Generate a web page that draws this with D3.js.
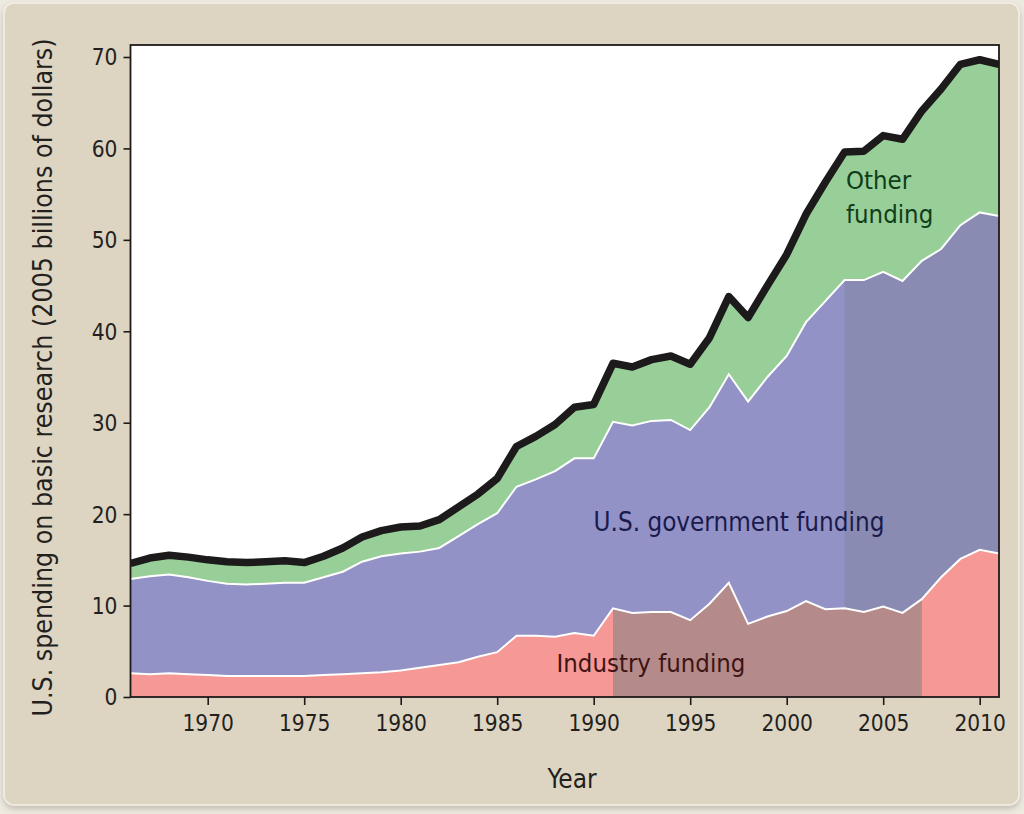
<!DOCTYPE html>
<html>
<head>
<meta charset="utf-8">
<script src="https://cdn.jsdelivr.net/npm/d3@7"></script>
<style>
  html, body { margin: 0; padding: 0; background: #eeeae2; }
  svg { display: block; }
  text { font-family: "DejaVu Sans Condensed", "DejaVu Sans", sans-serif; font-stretch: condensed; }
</style>
</head>
<body>
<svg id="chart" width="1024" height="814"></svg>
<script>
const years = [1966,1967,1968,1969,1970,1971,1972,1973,1974,1975,1976,1977,1978,1979,1980,1981,1982,1983,1984,1985,1986,1987,1988,1989,1990,1991,1992,1993,1994,1995,1996,1997,1998,1999,2000,2001,2002,2003,2004,2005,2006,2007,2008,2009,2010,2011];
const industry = [2.6,2.5,2.6,2.5,2.4,2.3,2.3,2.3,2.3,2.3,2.4,2.5,2.6,2.7,2.9,3.2,3.5,3.8,4.4,4.9,6.7,6.7,6.6,7.0,6.7,9.7,9.2,9.3,9.3,8.4,10.2,12.5,8.0,8.8,9.4,10.5,9.6,9.7,9.3,9.9,9.2,10.7,13.1,15.1,16.1,15.7];
const government = [10.3,10.7,10.8,10.6,10.3,10.1,10.0,10.1,10.2,10.2,10.7,11.2,12.2,12.7,12.8,12.7,12.8,13.8,14.5,15.2,16.3,17.1,18.1,19.1,19.4,20.4,20.5,20.9,21.0,20.8,21.5,22.8,24.3,26.2,27.9,30.5,33.7,35.9,36.3,36.6,36.3,37.0,35.9,36.5,36.9,36.9];
const other = [1.7,2.0,2.1,2.2,2.3,2.4,2.4,2.4,2.4,2.2,2.3,2.6,2.7,2.8,2.9,2.8,3.1,3.2,3.3,3.8,4.4,4.7,5.1,5.6,5.9,6.4,6.4,6.7,7.0,7.2,7.6,8.5,9.2,10.0,11.1,11.8,13.0,14.0,14.1,14.9,15.5,16.4,17.5,17.6,16.7,16.6];
const xTicks = [1970,1975,1980,1985,1990,1995,2000,2005,2010];
const yTicks = [0,10,20,30,40,50,60,70];
const industryHighlight = [1991, 2007];
const governmentHighlight = [2003, 2011];
const seriesLabels = {industry: ["Industry funding"], government: ["U.S. government funding"], other: ["Other", "funding"]};

const svg = d3.select("#chart");
const W = 1024, H = 814;

// panel
const defs = svg.append("defs");
const f = defs.append("filter").attr("id","sh").attr("x","-5%").attr("y","-5%").attr("width","110%").attr("height","110%");
f.append("feDropShadow").attr("dx",0).attr("dy",3).attr("stdDeviation",3).attr("flood-color","#8a8070").attr("flood-opacity",0.45);
svg.append("rect").attr("x",4).attr("y",3).attr("width",W-9).attr("height",H-12).attr("rx",10)
  .attr("fill","#ddd5c1").attr("stroke","#f3efe6").attr("stroke-width",1.5).attr("filter","url(#sh)");

const m = {left:130.5, right:999, top:45, bottom:697};
const x = d3.scaleLinear().domain([1966, 2011]).range([m.left, m.right]);
const y = d3.scaleLinear().domain([0, 70]).range([m.bottom, 57]);

const data = years.map((yr,i)=>({year:yr, industry:industry[i], government:government[i], other:other[i]}));
const keys = ["industry","government","other"];
const stack = d3.stack().keys(keys)(data);

const g = svg.append("g");
g.append("rect").attr("x",m.left).attr("y",m.top).attr("width",m.right-m.left).attr("height",m.bottom-m.top).attr("fill","#ffffff");

const area = d3.area().x(d=>x(d.data.year)).y0(d=>y(d[0])).y1(d=>y(d[1]));
const colors = {industry:"#f59896", government:"#9292c7", other:"#98cf98"};
const dark = {industry:"#b48a8a", government:"#8a8bb2"};

defs.append("clipPath").attr("id","clipPlot").append("rect")
  .attr("x",m.left).attr("y",m.top).attr("width",m.right-m.left).attr("height",m.bottom-m.top);
defs.append("clipPath").attr("id","clipInd").append("rect")
  .attr("x",x(industryHighlight[0])).attr("y",m.top).attr("width",x(industryHighlight[1])-x(industryHighlight[0])).attr("height",m.bottom-m.top);
defs.append("clipPath").attr("id","clipGov").append("rect")
  .attr("x",x(governmentHighlight[0])).attr("y",m.top).attr("width",x(governmentHighlight[1])-x(governmentHighlight[0])).attr("height",m.bottom-m.top);

const pg = g.append("g").attr("clip-path","url(#clipPlot)");
stack.forEach(s=>{
  pg.append("path").datum(s).attr("d",area).attr("fill",colors[s.key]);
});
pg.append("g").attr("clip-path","url(#clipInd)").append("path").datum(stack[0]).attr("d",area).attr("fill",dark.industry);
pg.append("g").attr("clip-path","url(#clipGov)").append("path").datum(stack[1]).attr("d",area).attr("fill",dark.government);

// white boundary lines
const topLine = d3.line().x(d=>x(d.data.year)).y(d=>y(d[1]));
[stack[0], stack[1]].forEach(s=>{
  pg.append("path").datum(s).attr("d",topLine).attr("fill","none").attr("stroke","#ffffff").attr("stroke-width",2);
});
// total black line
pg.append("path").datum(stack[2]).attr("d",topLine).attr("fill","none").attr("stroke","#1c1a1a")
  .attr("stroke-width",7.5).attr("stroke-linejoin","round").attr("stroke-linecap","butt");

// frame
g.append("rect").attr("x",m.left).attr("y",m.top).attr("width",m.right-m.left).attr("height",m.bottom-m.top)
  .attr("fill","none").attr("stroke","#1e1a1a").attr("stroke-width",1.8);

// axes
const xAxis = d3.axisBottom(x).tickValues(xTicks).tickFormat(d3.format("d")).tickSize(8).tickPadding(10);
const yAxis = d3.axisLeft(y).tickValues(yTicks).tickSize(7).tickPadding(6);
const xg = g.append("g").attr("transform",`translate(0,${m.bottom})`).call(xAxis);
const yg = g.append("g").attr("transform",`translate(${m.left},0)`).call(yAxis);
[xg,yg].forEach(a=>{
  a.select(".domain").remove();
  a.selectAll(".tick line").attr("stroke","#1e1a1a").attr("stroke-width",1.6);
  a.selectAll(".tick text").attr("fill","#231f1f").style("font-size","22.5px");
});
xg.selectAll(".tick text").attr("dy","0.71em");
yg.selectAll(".tick text").attr("dy","0.35em");

// axis titles
svg.append("text").attr("x",572).attr("y",788).attr("text-anchor","middle")
  .attr("fill","#231f1f").style("font-size","26px").text("Year");
svg.append("text").attr("transform",`translate(52,${(40+715)/2}) rotate(-90)`).attr("text-anchor","middle")
  .attr("fill","#231f1f").style("font-size","26.5px").text("U.S. spending on basic research (2005 billions of dollars)");

// series labels
svg.append("text").attr("x",651).attr("y",672).attr("text-anchor","middle").attr("fill","#3e1414")
  .style("font-size","25.5px").text(seriesLabels.industry[0]);
svg.append("text").attr("x",739).attr("y",531).attr("text-anchor","middle").attr("fill","#1a1a4c")
  .style("font-size","25.8px").text(seriesLabels.government[0]);
const ot = svg.append("text").attr("x",846).attr("y",189).attr("fill","#0f3d18").style("font-size","25.5px");
ot.append("tspan").attr("x",846).text(seriesLabels.other[0]);
ot.append("tspan").attr("x",846).attr("dy",34).text(seriesLabels.other[1]);
</script>
</body>
</html>
